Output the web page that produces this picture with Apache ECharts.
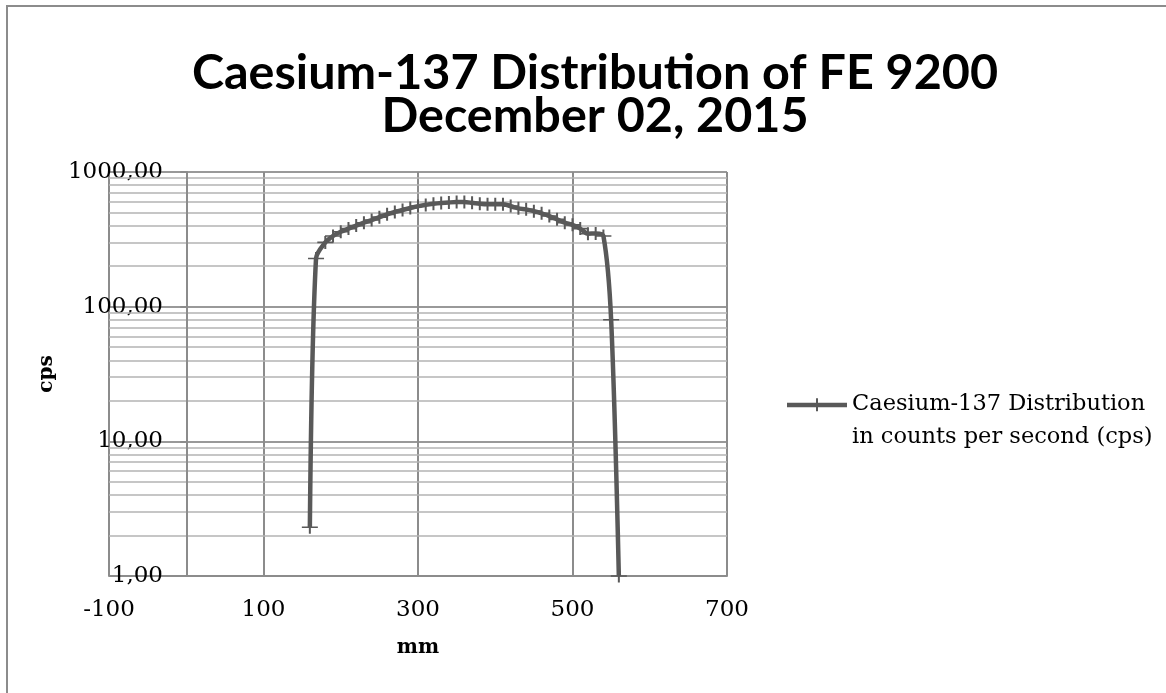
<!DOCTYPE html>
<html>
<head>
<meta charset="utf-8">
<script src="https://cdn.jsdelivr.net/npm/echarts@6/dist/echarts.min.js"></script>
<style>
html,body{margin:0;padding:0;background:#fff;}
#chart{width:1166px;height:693px;}
</style>
</head>
<body>
<div id="chart"></div>
<script>
// ---- data ----
const mm = [160, 168, 180, 190, 200, 210, 220, 230, 240, 250, 260, 270, 280, 290, 300,
  310, 320, 330, 340, 350, 360, 370, 380, 390, 400, 410, 420, 430, 440, 450,
  460, 470, 480, 490, 500, 510, 520, 530, 540, 550, 560];
const cps = [2.3, 228, 300, 335, 360, 380, 400, 420, 440, 462, 485, 505, 522, 540, 558,
  570, 580, 588, 594, 598, 598, 590, 580, 575, 575, 576, 558, 537, 528, 512,
  493, 471, 445, 420, 405, 380, 348, 350, 335, 80, 1];
const xMin = -100, xMax = 700, xStep = 200;
const yMin = 1, yMax = 1000;
const minorGrid = [2, 3, 4, 5, 6, 7, 8, 9, 20, 30, 40, 50, 60, 70, 80, 90,
  200, 300, 400, 500, 600, 700, 800, 900];
const zeroLine = [0];
const titleLines = ['Caesium-137 Distribution of FE 9200', 'December 02, 2015'];
const seriesName = 'Caesium-137 Distribution\nin counts per second (cps)';
const xName = 'mm', yName = 'cps';

const points = mm.map((x, i) => [x, cps[i]]);
const plus = 'path://M-1,-8 H1 V-1 H8 V1 H1 V8 H-1 V1 H-8 V-1 H-1 Z';
// legend icon: thick line with a plus mark, drawn in the upper part of its box
const legendIcon = 'path://M0,14 H29 V9.5 H31 V14 H60 V18.5 H31 V22.5 H29 V18.5 H0 Z M30,55 L30.01,55 L30,55 Z';
const serif = 'DejaVu Serif';

const chart = echarts.init(document.getElementById('chart'), null, {renderer: 'canvas'});
chart.setOption({
  backgroundColor: '#fff',
  animation: false,
  title: {
    text: titleLines.join('\n'),
    left: 590, top: 47, textAlign: 'center',
    textStyle: {fontFamily: 'Lato', fontWeight: 'bold', fontSize: 48.5, lineHeight: 43, color: '#000'}
  },
  graphic: [{
    type: 'polyline', silent: true, z: -1,
    shape: {points: [[7, 720], [7, 6], [1200, 6]]},
    style: {fill: null, stroke: '#8c8c8c', lineWidth: 2}
  }],
  legend: {
    left: 787, top: 388, orient: 'vertical', padding: 0,
    itemWidth: 60, itemHeight: 45.5,
    icon: legendIcon,
    itemStyle: {color: '#595959'},
    textStyle: {fontFamily: serif, fontSize: 22.5, color: '#000', lineHeight: 33},
    data: [seriesName]
  },
  grid: {left: 109, top: 172, width: 618, height: 404, containLabel: false},
  xAxis: {
    type: 'value', min: xMin, max: xMax, interval: xStep,
    name: xName, nameLocation: 'middle', nameGap: 62,
    nameTextStyle: {fontFamily: serif, fontWeight: 'bold', fontSize: 20, color: '#000'},
    axisLine: {show: true, lineStyle: {color: '#8c8c8c', width: 2}},
    axisTick: {show: false},
    axisLabel: {fontFamily: serif, fontSize: 23, color: '#000', margin: 23},
    splitLine: {show: true, lineStyle: {color: '#8c8c8c', width: 2}}
  },
  yAxis: {
    type: 'log', logBase: 10, min: yMin, max: yMax,
    name: yName, nameLocation: 'middle', nameGap: 40, nameRotate: 90,
    nameTextStyle: {fontFamily: serif, fontWeight: 'bold', fontSize: 20, color: '#000'},
    axisLine: {show: true, lineStyle: {color: '#8c8c8c', width: 2}},
    axisTick: {show: true, length: 6, lineStyle: {color: '#8c8c8c', width: 2}},
    axisLabel: {fontFamily: serif, fontSize: 23, color: '#000', margin: -54,
      formatter: v => Number(v).toFixed(2).replace('.', ',')},
    splitLine: {show: true, lineStyle: {color: '#999', width: 2}}
  },
  series: [{
    name: seriesName,
    type: 'line',
    data: points,
    smooth: 0.3,
    symbol: plus,
    symbolSize: [16, 13],
    symbolKeepAspect: false,
    showSymbol: true,
    itemStyle: {color: '#595959'},
    lineStyle: {color: '#595959', width: 4.5},
    z: 5,
    markLine: {
      silent: true, symbol: 'none', label: {show: false}, animation: false,
      data: minorGrid.map(v => ({yAxis: v, lineStyle: {color: '#b3b3b3', width: 1.5, type: 'solid'}}))
        .concat(zeroLine.map(v => ({xAxis: v, lineStyle: {color: '#8c8c8c', width: 2, type: 'solid'}})))
    }
  }]
});
</script>
</body>
</html>
